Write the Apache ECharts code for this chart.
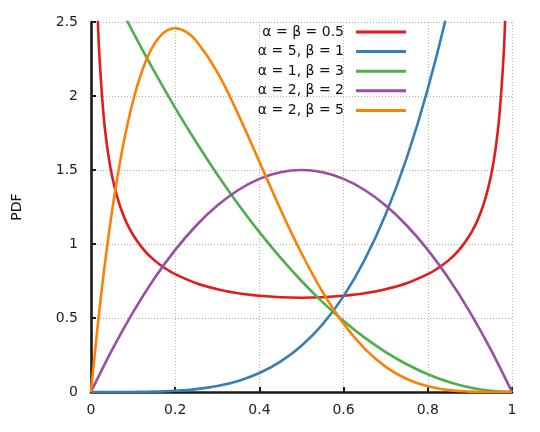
<!DOCTYPE html>
<html>
<head>
<meta charset="utf-8">
<title>Beta PDF</title>
<script src="https://cdn.jsdelivr.net/npm/echarts@6/dist/echarts.min.js"></script>
<style>
  html, body { margin: 0; padding: 0; background: #fff; }
  #main { width: 540px; height: 432px; }
</style>
</head>
<body>
<div id="main"></div>
<script>
// values, [x, pdf]
var names = ['α = β = 0.5', 'α = 5, β = 1', 'α = 1, β = 3', 'α = 2, β = 2', 'α = 2, β = 5'];
var colors = ['#e41a1c', '#377eb8', '#4daf4a', '#984ea3', '#ff7f00'];

var halfHalf = [
  [0.005, 4.51], [0.01, 3.20], [0.015, 2.62], [0.02, 2.27], [0.03, 1.866], [0.04, 1.624],
  [0.05, 1.460], [0.0625, 1.315], [0.075, 1.208], [0.0875, 1.126], [0.1, 1.061], [0.125, 0.962],
  [0.15, 0.891], [0.175, 0.838], [0.2, 0.796], [0.25, 0.735], [0.3, 0.695], [0.35, 0.667],
  [0.4, 0.650], [0.45, 0.640], [0.5, 0.637], [0.55, 0.640], [0.6, 0.650], [0.65, 0.667],
  [0.7, 0.695], [0.75, 0.735], [0.8, 0.796], [0.825, 0.838], [0.85, 0.891], [0.875, 0.962],
  [0.9, 1.061], [0.9125, 1.126], [0.925, 1.208], [0.9375, 1.315], [0.95, 1.460], [0.96, 1.624],
  [0.97, 1.866], [0.98, 2.27], [0.985, 2.62], [0.99, 3.20], [0.995, 4.51]
];
var fiveOne = [
  [0, 0], [0.05, 0.00003], [0.1, 0.0005], [0.15, 0.0025], [0.2, 0.008], [0.25, 0.0195],
  [0.3, 0.0405], [0.35, 0.075], [0.4, 0.128], [0.45, 0.205], [0.5, 0.3125], [0.55, 0.4575],
  [0.6, 0.648], [0.65, 0.8925], [0.7, 1.2005], [0.75, 1.582], [0.8, 2.048], [0.85, 2.61],
  [0.9, 3.28]
];
var oneThree = [
  [0, 3], [0.05, 2.7075], [0.1, 2.43], [0.15, 2.1675], [0.2, 1.92], [0.25, 1.6875],
  [0.3, 1.47], [0.35, 1.2675], [0.4, 1.08], [0.45, 0.9075], [0.5, 0.75], [0.55, 0.6075],
  [0.6, 0.48], [0.65, 0.3675], [0.7, 0.27], [0.75, 0.1875], [0.8, 0.12], [0.85, 0.0675],
  [0.9, 0.03], [0.95, 0.0075], [1, 0]
];
var twoTwo = [
  [0, 0], [0.05, 0.285], [0.1, 0.54], [0.15, 0.765], [0.2, 0.96], [0.25, 1.125],
  [0.3, 1.26], [0.35, 1.365], [0.4, 1.44], [0.45, 1.485], [0.5, 1.5], [0.55, 1.485],
  [0.6, 1.44], [0.65, 1.365], [0.7, 1.26], [0.75, 1.125], [0.8, 0.96], [0.85, 0.765],
  [0.9, 0.54], [0.95, 0.285], [1, 0]
];
var twoFive = [
  [0, 0], [0.025, 0.678], [0.05, 1.222], [0.075, 1.647], [0.1, 1.968], [0.125, 2.198],
  [0.15, 2.349], [0.175, 2.432], [0.2, 2.458], [0.225, 2.435], [0.25, 2.373], [0.3, 2.161],
  [0.35, 1.874], [0.4, 1.555], [0.45, 1.235], [0.5, 0.9375], [0.55, 0.677], [0.6, 0.461],
  [0.65, 0.293], [0.7, 0.170], [0.75, 0.0879], [0.8, 0.0384], [0.85, 0.0129], [0.9, 0.0027],
  [0.95, 0.0002], [1, 0]
];
var allData = [halfHalf, fiveOne, oneThree, twoTwo, twoFive];

var font = 'DejaVu Sans';
var chart = echarts.init(document.getElementById('main'));

var series = [];
for (var i = 0; i < allData.length; i++) {
  series.push({
    name: names[i],
    type: 'line',
    data: allData[i],
    smooth: 0.4,
    showSymbol: false,
    symbol: 'none',
    clip: true,
    lineStyle: { color: colors[i], width: 2.6 },
    itemStyle: { color: colors[i] }
  });
}

chart.setOption({
  animation: false,
  backgroundColor: '#fff',
  grid: { left: 91, right: 28, top: 22, bottom: 40, containLabel: false, outerBoundsMode: 'none' },
  legend: {
    data: names,
    orient: 'vertical',
    align: 'right',
    right: 134,
    top: 25,
    padding: 0,
    icon: 'rect',
    itemWidth: 50,
    itemHeight: 3,
    itemGap: 5.6,
    textStyle: { fontFamily: font, fontSize: 14, color: '#111', padding: [0, 7, 0, 0] }
  },
  xAxis: {
    type: 'value',
    min: 0,
    max: 1,
    interval: 0.2,
    axisLine: { lineStyle: { color: '#1a1a1a', width: 2.6 } },
    axisTick: { inside: true, length: 5, lineStyle: { color: '#1a1a1a', width: 2 } },
    axisLabel: { fontFamily: font, fontSize: 14, color: '#222', margin: 11 },
    splitLine: { show: true, lineStyle: { color: '#b4b4b4', width: 1, type: [1, 2] } }
  },
  yAxis: {
    type: 'value',
    min: 0,
    max: 2.5,
    interval: 0.5,
    name: 'PDF',
    nameLocation: 'middle',
    nameGap: 67,
    nameTextStyle: { fontFamily: font, fontSize: 14, color: '#111' },
    axisLine: { show: true, lineStyle: { color: '#1a1a1a', width: 2.6 } },
    axisTick: { show: true, inside: true, length: 5, lineStyle: { color: '#1a1a1a', width: 2 } },
    axisLabel: { fontFamily: font, fontSize: 14, color: '#222', margin: 13 },
    splitLine: { show: true, lineStyle: { color: '#b4b4b4', width: 1, type: [1, 2] } }
  },
  series: series
});
</script>
</body>
</html>
